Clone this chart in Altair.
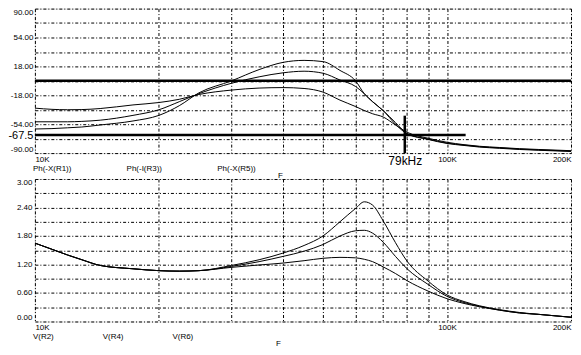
import altair as alt
import pandas as pd

# ---- data ----
freq_khz = [10, 11, 12, 13, 14.4, 17.3, 20, 22.4, 25, 30, 35, 40, 45, 50, 55,
            60, 63, 66, 70, 75, 80, 90, 100, 110, 120, 134, 150, 167, 200]

phase_names = ["Ph(-X(R1))", "Ph(-I(R3))", "Ph(-X(R5))"]
phase_r1 = [-60, -59.5, -58.5, -57.5, -55, -50, -43, -31, -15, 0, 14, 23, 25.5, 24, 13,
            0, -16, -26, -37, -54, -66, -73, -78, -80.5, -82.5, -84, -85.5, -86.5, -88]
phase_r3 = [-51, -51, -51, -50.5, -49, -43, -36, -26, -16, -3, 5, 10, 12, 9.5, 1,
            -7, -16, -26, -37, -52, -65.5, -72.5, -77.5, -80, -82, -83.5, -85, -86, -87.5]
phase_r5 = [-34, -35.5, -36, -35.8, -34.5, -30, -27, -23, -17, -11.5, -9, -8.4, -9.5, -14, -24,
            -32, -37, -41, -45, -55, -64, -71.5, -76.5, -79.5, -81.5, -83, -84.5, -85.5, -87]

mag_names = ["V(R2)", "V(R4)", "V(R6)"]
mag_r2 = [1.65, 1.52, 1.40, 1.30, 1.18, 1.11, 1.07, 1.06, 1.07, 1.18, 1.30, 1.44, 1.60, 1.80, 2.10,
          2.38, 2.52, 2.45, 2.12, 1.66, 1.27, 0.85, 0.56, 0.42, 0.33, 0.25, 0.19, 0.15, 0.09]
mag_r4 = [1.65, 1.52, 1.40, 1.30, 1.18, 1.11, 1.07, 1.06, 1.07, 1.16, 1.26, 1.37, 1.48, 1.62, 1.80,
          1.91, 1.92, 1.86, 1.67, 1.37, 1.11, 0.78, 0.53, 0.40, 0.32, 0.24, 0.18, 0.15, 0.09]
mag_r6 = [1.65, 1.52, 1.40, 1.30, 1.18, 1.11, 1.07, 1.06, 1.07, 1.14, 1.19, 1.23, 1.28, 1.33, 1.35,
          1.34, 1.31, 1.26, 1.15, 1.01, 0.86, 0.64, 0.48, 0.38, 0.31, 0.24, 0.18, 0.15, 0.09]

x_ticks = [10, 20, 30, 40, 50, 60, 70, 80, 90, 100, 200]
phase_ticks = [-90, -72, -54, -36, -18, 0, 18, 36, 54, 72, 90]
mag_ticks = [0, 0.3, 0.6, 0.9, 1.2, 1.5, 1.8, 2.1, 2.4, 2.7, 3.0]

cursor_freq = 79
cursor_phase = -67.5
cursor_h_end = 111     # kHz where horizontal cursor ends
cursor_v_top = -43.4   # phase where vertical cursor starts
zero_level = 0

n = len(freq_khz)
phase_df = pd.DataFrame({
    "f": freq_khz * 3,
    "v": phase_r1 + phase_r3 + phase_r5,
    "s": [phase_names[0]] * n + [phase_names[1]] * n + [phase_names[2]] * n,
})
mag_df = pd.DataFrame({
    "f": freq_khz * 3,
    "v": mag_r2 + mag_r4 + mag_r6,
    "s": [mag_names[0]] * n + [mag_names[1]] * n + [mag_names[2]] * n,
})
zero_df = pd.DataFrame({"y": [zero_level]})
hcur_df = pd.DataFrame({"x1": [x_ticks[0]], "x2": [cursor_h_end], "y": [cursor_phase]})
vcur_df = pd.DataFrame({"x": [cursor_freq], "y1": [cursor_v_top], "y2": [phase_ticks[0]]})

FONT = "Liberation Sans"
W = 538
H_TOP = 145
H_BOT = 143

xscale = alt.Scale(type="log", domain=[10, 200], nice=False)
yscale_top = alt.Scale(domain=[-90, 90], nice=False, zero=False)
yscale_bot = alt.Scale(domain=[0, 3], nice=False, zero=False)

common_axis = dict(
    grid=True, gridColor="black", gridDash=[3, 2, 1, 2], gridWidth=1,
    ticks=False, domain=False, labelFont=FONT, labelColor="black",
    labelFlush=True, labelOverlap=False,
)

xaxis_top = alt.Axis(
    values=x_ticks + [cursor_freq],
    labelExpr="datum.value == 79 ? '79kHz' : datum.value == 10 ? '10K' : datum.value == 100 ? '100K' : datum.value == 200 ? '200K' : ''",
    labelFontSize={"condition": {"test": "datum.value == 79", "value": 12}, "value": 8},
    gridOpacity={"condition": {"test": "datum.value == 79", "value": 0}, "value": 1},
    labelPadding=2,
    titleX=246, titleY=22, titleFontSize=8, titleFontWeight="normal", titleFont=FONT,
    titleBaseline="middle", titleAlign="center", titleColor="black",
    **common_axis,
)
xaxis_bot = alt.Axis(
    values=x_ticks,
    labelExpr="datum.value == 10 ? '10K' : datum.value == 100 ? '100K' : datum.value == 200 ? '200K' : ''",
    labelFontSize=8, labelPadding=2,
    titleX=244, titleY=22, titleFontSize=8, titleFontWeight="normal", titleFont=FONT,
    titleBaseline="middle", titleAlign="center", titleColor="black",
    **common_axis,
)
yaxis_top = alt.Axis(
    values=phase_ticks + [cursor_phase],
    labelExpr="datum.value == -67.5 ? '-67.5' : (abs(datum.value) % 36 == 18 ? (datum.value < 0 ? '-' : '') + format(abs(datum.value), '.2f') : '')",
    labelFontSize={"condition": {"test": "datum.value == -67.5", "value": 11}, "value": 8},
    gridOpacity={"condition": {"test": "datum.value == -67.5", "value": 0}, "value": 1},
    labelPadding=2,
    **common_axis,
)
yaxis_bot = alt.Axis(
    values=mag_ticks,
    labelExpr="round(datum.value * 10) % 6 == 0 ? format(datum.value, '.2f') : ''",
    labelFontSize=8, labelPadding=3,
    **common_axis,
)


def legend(y, pad):
    return alt.Legend(
        orient="none", legendX=-10, legendY=y, direction="horizontal", title=None,
        symbolSize=0, symbolOpacity=0, symbolStrokeWidth=0, labelOffset=0,
        labelFontSize=8, labelFont=FONT, labelColor="black", columnPadding=pad, padding=0,
    )


top_lines = alt.Chart(phase_df).mark_line(interpolate="monotone", strokeWidth=1, clip=True).encode(
    x=alt.X("f:Q", scale=xscale, axis=xaxis_top, title="F"),
    y=alt.Y("v:Q", scale=yscale_top, axis=yaxis_top, title=None),
    color=alt.Color("s:N", scale=alt.Scale(domain=phase_names, range=["black"] * 3),
                    legend=legend(157, 47)),
)
top_zero = alt.Chart(zero_df).mark_rule(color="black", strokeWidth=2.5).encode(
    y=alt.Y("y:Q", scale=yscale_top, axis=yaxis_top, title=None),
)
top_hcur = alt.Chart(hcur_df).mark_rule(color="black", strokeWidth=2.5).encode(
    x=alt.X("x1:Q", scale=xscale, axis=xaxis_top, title="F"), x2="x2:Q",
    y=alt.Y("y:Q", scale=yscale_top, axis=yaxis_top, title=None),
)
top_vcur = alt.Chart(vcur_df).mark_rule(color="black", strokeWidth=2.5).encode(
    x=alt.X("x:Q", scale=xscale, axis=xaxis_top, title="F"),
    y=alt.Y("y1:Q", scale=yscale_top, axis=yaxis_top, title=None), y2="y2:Q",
)
top = alt.layer(top_lines, top_zero, top_hcur, top_vcur).properties(width=W, height=H_TOP)

bot_lines = alt.Chart(mag_df).mark_line(interpolate="monotone", strokeWidth=1, clip=True).encode(
    x=alt.X("f:Q", scale=xscale, axis=xaxis_bot, title="F"),
    y=alt.Y("v:Q", scale=yscale_bot, axis=yaxis_bot, title=None),
    color=alt.Color("s:N", scale=alt.Scale(domain=mag_names, range=["black"] * 3),
                    legend=legend(155, 41)),
)
bottom = bot_lines.properties(width=W, height=H_BOT)

chart = (
    alt.vconcat(top, bottom, spacing=26, bounds="flush")
    .resolve_scale(color="independent")
    .properties(padding={"left": -1, "top": -1, "right": 0, "bottom": 0}, background="white")
    .configure_view(stroke="black", strokeWidth=1)
    .configure(font=FONT)
)

chart.save("out.html", embed_options={"renderer": "svg", "actions": False})
